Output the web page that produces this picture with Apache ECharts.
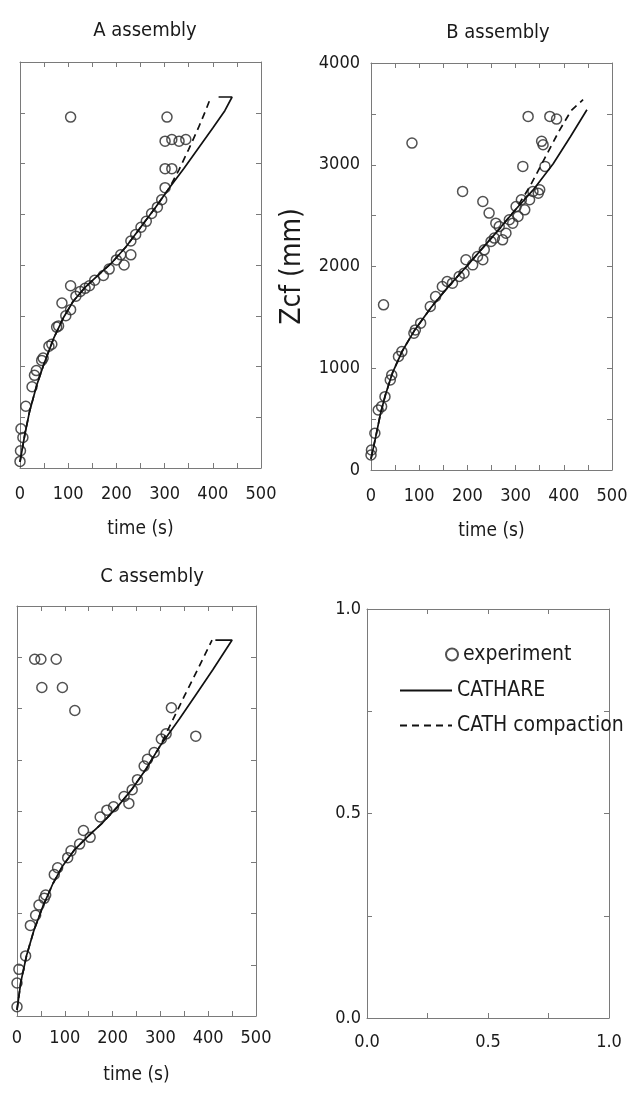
<!DOCTYPE html>
<html><head><meta charset="utf-8">
<script src="https://cdn.jsdelivr.net/npm/echarts@6/dist/echarts.min.js"></script>
<style>html,body{margin:0;padding:0;background:#fff}#c{width:631px;height:1097px}</style>
</head><body><div id="c"></div>
<script>
const FONT = "'Liberation Sans Narrow','DejaVu Sans Condensed','Liberation Sans',Arial,sans-serif";
const panelTitles = ['A assembly', 'B assembly', 'C assembly'];
const timeRange = [0, 500];
const zcfRange = [0, 4000];
const legendRange = [0, 1];

// experiment points [time (s), Zcf (mm)]
const expA = [[0,65],[1,170],[2,387],[6,300],[12,608],[25,800],[30,913],[34,960],[45,1060],[48,1083],[60,1200],[66,1219],[76,1388],[80,1400],[87,1626],[95,1500],[105,1795],[105,1560],[116,1693],[125,1740],[135,1770],[144,1795],[155,1850],[173,1897],[185,1960],[200,2050],[209,2100],[216,2000],[230,2100],[230,2236],[240,2300],[251,2372],[262,2430],[273,2507],[285,2570],[294,2643],[301,2762],[301,2949],[315,2949],[301,3220],[315,3237],[330,3220],[344,3237],[305,3457],[105,3457]];
const expB = [[0,148],[1,197],[8,361],[15,590],[22,623],[29,721],[40,885],[43,934],[57,1115],[64,1164],[89,1344],[92,1377],[103,1443],[123,1607],[134,1705],[148,1803],[158,1852],[169,1836],[183,1902],[193,1934],[197,2066],[211,2016],[221,2098],[232,2066],[235,2164],[249,2246],[256,2279],[266,2393],[273,2262],[280,2328],[287,2459],[294,2426],[301,2590],[305,2492],[312,2656],[319,2557],[329,2656],[336,2738],[347,2721],[350,2754],[361,2984],[357,3197],[354,3230],[371,3475],[385,3449],[85,3213],[26,1623],[190,2738],[232,2639],[245,2525],[326,3475],[315,2984],[259,2426]];
const expC = [[0,90],[0,322],[4,455],[18,586],[28,884],[39,983],[46,1082],[57,1148],[60,1181],[78,1380],[85,1446],[106,1545],[113,1611],[131,1677],[139,1810],[153,1743],[174,1942],[188,2008],[202,2041],[224,2141],[234,2074],[241,2207],[252,2306],[266,2438],[273,2505],[287,2571],[302,2703],[312,2753],[37,3480],[50,3480],[82,3480],[52,3205],[95,3205],[121,2980],[374,2730],[323,3007]];

// CATHARE (solid) and CATH compaction (dashed) curves
const solidA = [[0,60],[10,330],[20,560],[35,820],[50,1030],[70,1280],[90,1480],[110,1640],[135,1780],[160,1890],[190,2020],[220,2180],[250,2370],[280,2560],[310,2760],[340,2950],[370,3150],[400,3350],[425,3520],[440,3655],[412,3655]];
const dashA = [[0,60],[10,330],[20,560],[35,820],[50,1030],[70,1280],[90,1480],[110,1640],[135,1780],[160,1890],[190,2020],[220,2180],[250,2370],[280,2560],[310,2760],[330,2940],[350,3140],[370,3350],[385,3520],[396,3655]];
const solidB = [[0,110],[10,330],[20,560],[30,740],[45,960],[65,1170],[90,1370],[125,1600],[160,1800],[200,2010],[235,2200],[270,2390],[300,2560],[336,2750],[378,3010],[413,3270],[448,3541]];
const dashB = [[0,110],[10,330],[20,560],[30,740],[45,960],[65,1170],[90,1370],[125,1600],[160,1800],[200,2010],[235,2200],[270,2390],[300,2560],[330,2790],[360,3060],[390,3330],[415,3530],[440,3640]];
const solidC = [[0,60],[8,330],[20,590],[35,830],[55,1080],[75,1290],[95,1460],[120,1620],[150,1760],[180,1890],[210,2040],[240,2210],[270,2410],[300,2640],[340,2900],[375,3140],[410,3380],[450,3668],[415,3668]];
const dashC = [[0,60],[8,330],[20,590],[35,830],[55,1080],[75,1290],[95,1460],[120,1620],[150,1760],[180,1890],[210,2040],[240,2210],[270,2410],[300,2640],[325,2880],[350,3120],[380,3400],[408,3668]];

const exps = [expA, expB, expC];
const solids = [solidA, solidB, solidC];
const dashes = [dashA, dashB, dashC];

const grids = [
  {left: 20, top: 62, width: 241, height: 406},
  {left: 371, top: 63, width: 241, height: 407},
  {left: 17, top: 606, width: 239, height: 410},
  {left: 367, top: 609, width: 242, height: 409}
];
const TXT = '#1a1a1a';
const LINE = '#7a7a7a';

const xAxes = [], yAxes = [];
grids.forEach((g, i) => {
  const isD = i === 3;
  const rng = isD ? legendRange : timeRange;
  const yr = isD ? legendRange : zcfRange;
  const common = {
    gridIndex: i, type: 'value', splitLine: {show: false},
    axisLine: {show: true, onZero: false, lineStyle: {color: LINE, width: 1}},
    axisTick: {show: true, inside: true, length: 5, lineStyle: {color: LINE}},
    minorTick: {show: true, splitNumber: 2, length: 5, lineStyle: {color: LINE}}
  };
  const fmt = isD ? (v => v.toFixed(1)) : (v => String(v));
  xAxes.push(Object.assign({}, common, {
    min: rng[0], max: rng[1], interval: isD ? 0.5 : 100, position: 'bottom',
    axisLabel: {show: true, fontFamily: FONT, fontSize: 18, color: TXT, margin: i === 2 ? 13 : (isD ? 15 : 17), formatter: fmt},
    name: isD ? '' : 'time (s)', nameLocation: 'middle', nameGap: i === 2 ? 50 : 52,
    nameTextStyle: {fontFamily: FONT, fontSize: 19, color: TXT}
  }));
  xAxes.push(Object.assign({}, common, {
    min: rng[0], max: rng[1], interval: isD ? 0.5 : 100, position: 'top',
    axisLabel: {show: false}
  }));
  yAxes.push(Object.assign({}, common, {
    min: yr[0], max: yr[1], interval: isD ? 0.5 : 1000, position: 'left',
    axisLabel: {show: i === 1 || isD, fontFamily: FONT, fontSize: 18, color: TXT, margin: isD ? 6 : 11, formatter: fmt},
    name: i === 1 ? 'Zcf (mm)' : '', nameLocation: 'middle', nameGap: 64, nameRotate: 90,
    nameTextStyle: {fontFamily: FONT, fontSize: 28, color: TXT}
  }));
  yAxes.push(Object.assign({}, common, {
    min: yr[0], max: yr[1], interval: isD ? 0.5 : 1000, position: 'right',
    axisLabel: {show: false}
  }));
});

const series = [];
for (let i = 0; i < 3; i++) {
  series.push({
    name: 'CATHARE', type: 'line', xAxisIndex: 2 * i, yAxisIndex: 2 * i,
    data: solids[i], symbol: 'none', smooth: false,
    lineStyle: {color: '#111', width: 1.7, type: 'solid'}, itemStyle: {color: '#111'}
  });
  series.push({
    name: 'CATH compaction', type: 'line', xAxisIndex: 2 * i, yAxisIndex: 2 * i,
    data: dashes[i], symbol: 'none',
    lineStyle: {color: '#111', width: 1.7, type: [7, 5]}, itemStyle: {color: '#111'}
  });
  series.push({
    name: 'experiment', type: 'scatter', xAxisIndex: 2 * i, yAxisIndex: 2 * i,
    data: exps[i], symbol: 'circle', symbolSize: 10,
    itemStyle: {color: 'rgba(0,0,0,0)', borderColor: '#333', borderWidth: 1.5, opacity: 0.85}
  });
}

const titles = panelTitles.map((t, i) => ({
  text: t, left: [140, 493, 147][i], top: [16, 18, 562][i], textAlign: 'center',
  textStyle: {fontFamily: FONT, fontSize: 20, fontWeight: 'normal', color: TXT}
}));

const chart = echarts.init(document.getElementById('c'), null, {renderer: 'canvas'});
chart.setOption({
  animation: false,
  backgroundColor: '#fff',
  title: titles,
  grid: grids,
  xAxis: xAxes,
  yAxis: yAxes,
  legend: [
    {data: ['experiment'], left: 440, top: 639, orient: 'vertical', itemWidth: 12, itemHeight: 12, itemGap: 5,
     textStyle: {fontFamily: FONT, fontSize: 21, color: TXT}, selectedMode: false},
    {data: ['CATHARE', 'CATH compaction'], left: 394, top: 675, orient: 'vertical', itemWidth: 52, itemHeight: 14, itemGap: 14,
     itemStyle: {color: 'rgba(0,0,0,0)', borderWidth: 0, opacity: 0},
     lineStyle: {color: '#111', width: 2},
     textStyle: {fontFamily: FONT, fontSize: 21, color: TXT}, selectedMode: false}
  ],
  series: series
});
</script></body></html>
